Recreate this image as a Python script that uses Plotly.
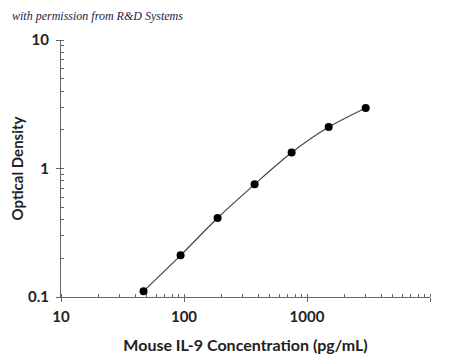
import plotly.graph_objects as go

concentration = [46.9, 93.8, 187.5, 375, 750, 1500, 3000]
optical_density = [0.111, 0.211, 0.412, 0.753, 1.33, 2.10, 2.96]

x_ticks = [10, 100, 1000, 10000]
x_tick_labels = ["10", "100", "1000", "10000"]
y_ticks = [0.1, 1, 10]
y_tick_labels = ["0.1", "1", "10"]

fig = go.Figure()
fig.add_trace(go.Scatter(
    x=concentration, y=optical_density,
    mode="lines+markers",
    line=dict(color="#444444", width=1.2, shape="spline", smoothing=0.8),
    marker=dict(color="black", size=8),
    showlegend=False,
))

tick_font = dict(family="Lato", size=15, color="#222222", weight="bold")
fig.update_xaxes(
    type="log", range=[1, 4], automargin=False,
    tickvals=x_ticks, ticktext=x_tick_labels,
    ticks="outside", ticklen=4, tickcolor="#666666", ticklabelstandoff=2,
    minor=dict(ticks="inside", ticklen=3, tickcolor="#666666", showgrid=False, dtick="D1"),
    showline=True, linecolor="#666666", linewidth=1,
    showgrid=False, zeroline=False,
    tickfont=tick_font,
    title=dict(text="Mouse IL-9 Concentration (pg/mL)",
               font=dict(family="Lato", size=16, color="#222222", weight="bold"), standoff=15),
)
fig.update_yaxes(
    type="log", range=[-1, 1], automargin=False,
    tickvals=y_ticks, ticktext=y_tick_labels,
    ticks="outside", ticklen=4, tickcolor="#666666", ticklabelstandoff=4,
    minor=dict(ticks="inside", ticklen=3, tickcolor="#666666", showgrid=False, dtick="D1"),
    showline=True, linecolor="#666666", linewidth=1,
    showgrid=False, zeroline=False,
    tickfont=tick_font,
    title=dict(text="Optical Density",
               font=dict(family="Lato", size=15, color="#222222", weight="bold"), standoff=10),
)
fig.add_annotation(
    text="<i>with permission from R&amp;D Systems</i>",
    xref="paper", yref="paper", x=-0.138, y=1.093, xanchor="left", yanchor="middle",
    showarrow=False, font=dict(family="Liberation Serif", size=12, color="#1c1c48"),
)
fig.update_layout(
    width=442, height=348,
    margin=dict(l=53, r=20, t=32, b=59),
    paper_bgcolor="white", plot_bgcolor="white",
)
fig.write_html("out.html")
